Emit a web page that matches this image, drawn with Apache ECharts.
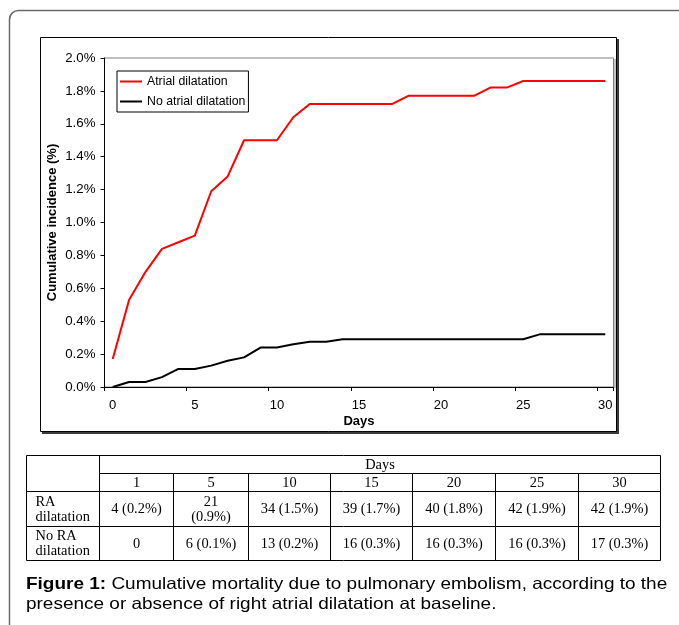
<!DOCTYPE html>
<html>
<head>
<meta charset="utf-8">
<script src="https://cdn.jsdelivr.net/npm/echarts@6/dist/echarts.min.js"></script>
<style>
html,body{margin:0;padding:0;background:#fff;}
#chart{width:679px;height:625px;}
</style>
</head>
<body>
<div id="chart"></div>
<script>
// ---- data ----
const days = ['0','1','2','3','4','5','6','7','8','9','10','11','12','13','14','15','16','17','18','19','20','21','22','23','24','25','26','27','28','29','30'];
const atrialDilatation = [0.17,0.53,0.70,0.84,0.88,0.92,1.19,1.28,1.50,1.50,1.50,1.64,1.72,1.72,1.72,1.72,1.72,1.72,1.77,1.77,1.77,1.77,1.77,1.82,1.82,1.86,1.86,1.86,1.86,1.86,1.86];
const noAtrialDilatation = [0,0.03,0.03,0.06,0.11,0.11,0.13,0.16,0.18,0.24,0.24,0.26,0.275,0.275,0.29,0.29,0.29,0.29,0.29,0.29,0.29,0.29,0.29,0.29,0.29,0.29,0.32,0.32,0.32,0.32,0.32];
const seriesNames = ['Atrial dilatation','No atrial dilatation'];
const yTickValues = [0,0.2,0.4,0.6,0.8,1.0,1.2,1.4,1.6,1.8,2.0];

const tableHeader = 'Days';
const tableDays = ['1','5','10','15','20','25','30'];
const tableRowLabels = ['RA\ndilatation','No RA\ndilatation'];
const tableRA = ['4 (0.2%)','21\n(0.9%)','34 (1.5%)','39 (1.7%)','40 (1.8%)','42 (1.9%)','42 (1.9%)'];
const tableNoRA = ['0','6 (0.1%)','13 (0.2%)','16 (0.3%)','16 (0.3%)','16 (0.3%)','17 (0.3%)'];
const captionBold = 'Figure 1:';
const captionLine1 = ' Cumulative mortality due to pulmonary embolism, according to the';
const captionLine2 = 'presence or absence of right atrial dilatation at baseline.';

// ---- layout ----
const SANS = '"Liberation Sans", Arial, sans-serif';
const SERIF = '"Liberation Serif", "Times New Roman", serif';
const colX = [26.5, 99.5, 173.5, 248.5, 330.5, 412.5, 495.5, 578.5, 660.5];
const rowY = [455.5, 473.5, 491.5, 526.5, 560.5];

const graphics = [];
// outer rounded frame
graphics.push({type:'rect', z:-20, shape:{x:9.5,y:10.5,width:720,height:720,r:9}, style:{fill:'#fff',stroke:'#6a6a6a',lineWidth:1.5}});
// chart panel with shadow
graphics.push({type:'rect', z:-15, shape:{x:42,y:39,width:577,height:395}, style:{fill:'#3a3a3a'}});
graphics.push({type:'rect', z:-14, shape:{x:40.5,y:37.5,width:576,height:394}, style:{fill:'#fff',stroke:'#000',lineWidth:1}});
// plot-area right shadow
graphics.push({type:'line', z:-13, shape:{x1:615,y1:59,x2:615,y2:388}, style:{stroke:'#c4c4c4',lineWidth:2}});

// table lines
const L = (x1,y1,x2,y2)=>graphics.push({type:'line', z:5, shape:{x1,y1,x2,y2}, style:{stroke:'#000',lineWidth:1}});
L(colX[0],rowY[0],colX[8],rowY[0]);
L(colX[0],rowY[4],colX[8],rowY[4]);
L(colX[0],rowY[0],colX[0],rowY[4]);
L(colX[8],rowY[0],colX[8],rowY[4]);
L(colX[1],rowY[0],colX[1],rowY[4]);
L(colX[1],rowY[1],colX[8],rowY[1]);
L(colX[0],rowY[2],colX[8],rowY[2]);
L(colX[0],rowY[3],colX[8],rowY[3]);
for(let i=2;i<8;i++) L(colX[i],rowY[1],colX[i],rowY[4]);

const T = (x,y,text,align,extra)=>graphics.push({type:'text', z:6, x, y, style:Object.assign({text, fill:'#000', font:'14.4px '+SERIF, align, verticalAlign:'middle', lineHeight:15}, extra||{})});
T((colX[1]+colX[8])/2, (rowY[0]+rowY[1])/2+0.5, tableHeader, 'center');
tableDays.forEach((d,i)=>T((colX[i+1]+colX[i+2])/2, (rowY[1]+rowY[2])/2+0.5, d, 'center'));
T(35.5, (rowY[2]+rowY[3])/2+0.5, tableRowLabels[0], 'left');
T(35.5, (rowY[3]+rowY[4])/2+0.5, tableRowLabels[1], 'left');
tableRA.forEach((v,i)=>T((colX[i+1]+colX[i+2])/2, (rowY[2]+rowY[3])/2+0.5, v, 'center'));
tableNoRA.forEach((v,i)=>T((colX[i+1]+colX[i+2])/2, (rowY[3]+rowY[4])/2+1, v, 'center'));

// caption
graphics.push({type:'text', z:6, x:26, y:584.5, scaleX:1.15, style:{
  text:'{b|'+captionBold+'}{n|'+captionLine1+'}', verticalAlign:'middle', align:'left',
  rich:{b:{font:'bold 16.5px '+SANS, fill:'#000'}, n:{font:'16.5px '+SANS, fill:'#000'}}
}});
graphics.push({type:'text', z:6, x:26, y:604.5, scaleX:1.15, style:{text:captionLine2, font:'16.5px '+SANS, fill:'#000', verticalAlign:'middle', align:'left'}});

const chart = echarts.init(document.getElementById('chart'), null, {renderer:'canvas'});
chart.setOption({
  animation:false,
  backgroundColor:'#fff',
  graphic: graphics,
  grid:{left:104.5, right:65.5, top:58, bottom:238, show:true, borderColor:'#808080', borderWidth:1, backgroundColor:'transparent'},
  legend:{
    data:seriesNames, orient:'vertical', left:117, top:71,
    padding:[3,3,3,3], itemGap:5, itemWidth:22, itemHeight:2, icon:'rect',
    borderColor:'#000', borderWidth:1, backgroundColor:'#fff',
    textStyle:{fontFamily:SANS, fontSize:12.3, color:'#000', lineHeight:15}
  },
  xAxis:{
    type:'category', data:days, boundaryGap:true,
    name:'Days', nameLocation:'middle', nameGap:28, nameMoveOverlap:false,
    nameTextStyle:{fontFamily:SANS, fontSize:13, fontWeight:'bold', color:'#000'},
    axisLine:{lineStyle:{color:'#000', width:1}},
    axisTick:{show:true, interval:4, length:4, lineStyle:{color:'#000'}},
    axisLabel:{interval:4, margin:12, fontFamily:SANS, fontSize:13, color:'#000'},
    splitLine:{show:false}
  },
  yAxis:{
    type:'value', min:yTickValues[0], max:yTickValues[yTickValues.length-1], interval:0.2,
    name:'Cumulative incidence (%)', nameLocation:'middle', nameRotate:90, nameGap:46, nameMoveOverlap:false,
    nameTextStyle:{fontFamily:SANS, fontSize:13, fontWeight:'bold', color:'#000'},
    axisLine:{show:true, lineStyle:{color:'#000', width:1}},
    axisTick:{show:true, length:4, lineStyle:{color:'#000'}},
    axisLabel:{margin:9, fontFamily:SANS, fontSize:13.3, color:'#000', formatter:v=>v.toFixed(1)+'%'},
    splitLine:{show:false}
  },
  series:[
    {name:seriesNames[0], type:'line', data:atrialDilatation, symbol:'none', color:'#ff0000', lineStyle:{color:'#ff0000', width:2}},
    {name:seriesNames[1], type:'line', data:noAtrialDilatation, symbol:'none', color:'#000000', lineStyle:{color:'#000000', width:2}}
  ]
});
</script>
</body>
</html>
